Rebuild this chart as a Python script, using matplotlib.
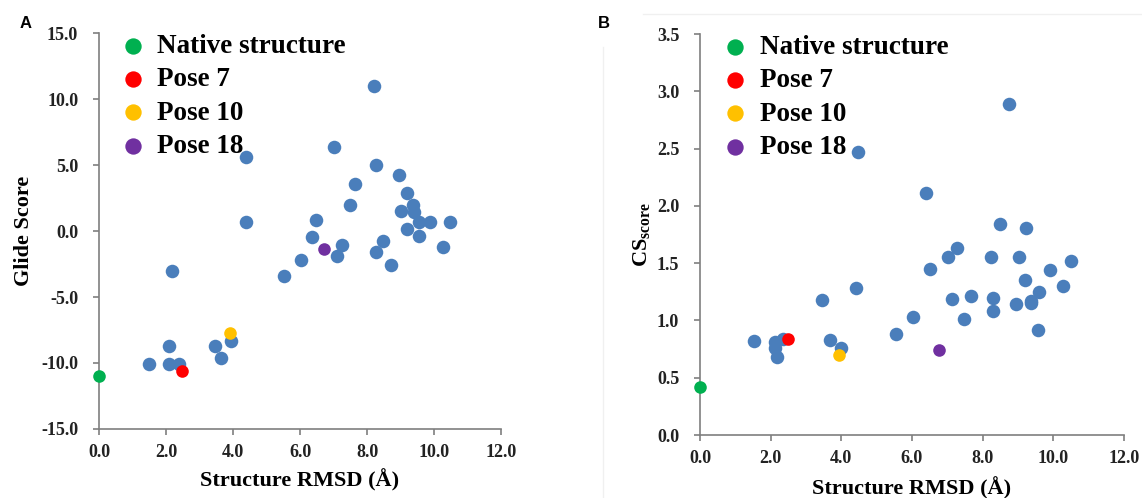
import matplotlib.pyplot as plt
from matplotlib.lines import Line2D

# --- fonts: Times-like bold serif everywhere ---
plt.rcParams['font.family'] = 'Liberation Serif'
plt.rcParams['font.weight'] = 'bold'
plt.rcParams['axes.labelweight'] = 'bold'
plt.rcParams['mathtext.fontset'] = 'custom'
plt.rcParams['mathtext.rm'] = 'Liberation Serif:bold'
plt.rcParams['mathtext.it'] = 'Liberation Serif:bold'
plt.rcParams['mathtext.bf'] = 'Liberation Serif:bold'

# --- data ---
special_names = ['Native structure', 'Pose 7', 'Pose 10', 'Pose 18']
special_colors = ['#00b050', '#ff0000', '#ffc000', '#7030a0']
pose_color = '#4a7ebb'

# panel A: Glide score
glide_rmsd = [1.50, 2.08, 2.08, 2.38, 2.17, 3.45, 3.63, 3.95, 4.40, 4.40,
              5.51, 6.04, 6.37, 6.47, 7.02, 7.09, 7.26, 7.49, 7.65, 8.22,
              8.27, 8.27, 8.47, 8.72, 8.95, 9.01, 9.20, 9.20, 9.36, 9.40,
              9.56, 9.56, 9.87, 10.26, 10.49]
glide_score = [-10.06, -8.75, -10.06, -10.06, -3.03, -8.70, -9.61, -8.37, 5.63, 0.72,
               -3.38, -2.16, -0.44, 0.87, 6.34, -1.91, -1.08, 1.99, 3.58, 10.97,
               5.03, -1.58, -0.75, -2.59, 4.27, 1.51, 2.87, 0.16, 1.94, 1.43,
               0.72, -0.37, 0.72, -1.20, 0.72]
glide_special_rmsd = [0.0, 2.47, 3.92, 6.73]
glide_special_score = [-11.0, -10.6, -7.7, -1.33]

# panel B: CS score
cs_rmsd = [1.52, 2.11, 2.11, 2.19, 2.35, 3.46, 3.68, 3.98, 4.41, 4.46,
           5.54, 6.04, 6.40, 6.50, 7.02, 7.13, 7.28, 7.49, 7.68, 8.24,
           8.30, 8.30, 8.49, 8.76, 8.96, 9.04, 9.21, 9.24, 9.37, 9.37,
           9.60, 9.56, 9.90, 10.29, 10.52]
cs_score = [0.82, 0.81, 0.76, 0.68, 0.84, 1.18, 0.83, 0.76, 1.28, 2.47,
            0.88, 1.03, 2.11, 1.45, 1.55, 1.19, 1.63, 1.01, 1.21, 1.55,
            1.20, 1.08, 1.84, 2.89, 1.14, 1.55, 1.35, 1.81, 1.17, 1.15,
            1.25, 0.92, 1.44, 1.30, 1.52]
cs_special_rmsd = [0.0, 2.48, 3.94, 6.76]
cs_special_score = [0.42, 0.84, 0.70, 0.74]

x_ticks = [0, 2, 4, 6, 8, 10, 12]
glide_ticks = [-15, -10, -5, 0, 5, 10, 15]
cs_ticks = [0, 0.5, 1.0, 1.5, 2.0, 2.5, 3.0, 3.5]

fig = plt.figure(figsize=(11.42, 4.98), dpi=100)
axA = fig.add_axes([0.0867, 0.1386, 0.352, 0.795])
axB = fig.add_axes([0.613, 0.1265, 0.371, 0.805])


def draw_panel(ax, rx, ry, sx, sy, yticks, ylim, ylabel, ylab_x, xlab_y):
    ax.scatter(rx, ry, s=95, color=pose_color, linewidths=0, zorder=2)
    handles = []
    for x, y, c, name in zip(sx, sy, special_colors, special_names):
        h = ax.scatter([x], [y], s=82, color=c, linewidths=0, zorder=3,
                       label=name, clip_on=False)
        handles.append(h)

    ax.set_xlim(0, 12)
    ax.set_ylim(*ylim)
    ax.set_xticks(x_ticks)
    ax.set_xticklabels(['%.1f' % t for t in x_ticks])
    ax.set_yticks(yticks)
    ax.set_yticklabels(['%.1f' % t for t in yticks])
    for side in ['top', 'right']:
        ax.spines[side].set_visible(False)
    for side in ['left', 'bottom']:
        ax.spines[side].set_color('#7f7f7f')
        ax.spines[side].set_linewidth(1.2)
    ax.tick_params(axis='both', direction='out', length=4, width=1.2,
                   color='#7f7f7f', labelsize=13, labelcolor='#222222')
    ax.tick_params(axis='y', pad=11)
    ax.tick_params(axis='x', pad=7)

    ax.set_xlabel('Structure RMSD (Å)', fontsize=16, fontweight='bold')
    ax.set_ylabel(ylabel, fontsize=16, fontweight='bold')
    ax.xaxis.set_label_coords(0.5, xlab_y)
    ax.yaxis.set_label_coords(ylab_x, 0.5)

    ax.legend(handles=handles, loc='upper left', bbox_to_anchor=(0.064, 0.997),
              frameon=False, fontsize=19.5, borderpad=0, borderaxespad=0,
              handlelength=0.6, handletextpad=0.6, labelspacing=0.3,
              markerscale=1.3)


draw_panel(axA, glide_rmsd, glide_score, glide_special_rmsd, glide_special_score,
           glide_ticks, (-15, 15), 'Glide Score', -0.162, -0.1)
draw_panel(axB, cs_rmsd, cs_score, cs_special_rmsd, cs_special_score,
           cs_ticks, (0, 3.5), r'CS$_{\mathrm{score}}$', -0.113, -0.105)

# panel letters
fig.text(0.0228, 0.952, 'A', family='Liberation Sans', fontsize=12,
         fontweight='bold', ha='center', va='center')
fig.text(0.529, 0.952, 'B', family='Liberation Sans', fontsize=12,
         fontweight='bold', ha='center', va='center')

# faint frame around panel B
fig.add_artist(Line2D([643 / 1142, 1.0], [1 - 14 / 498, 1 - 14 / 498],
                      color='#f0f0f0', linewidth=1))
fig.add_artist(Line2D([603 / 1142, 603 / 1142], [0, 1 - 47 / 498],
                      color='#f0f0f0', linewidth=1))

fig.savefig('out.png', dpi=100)
